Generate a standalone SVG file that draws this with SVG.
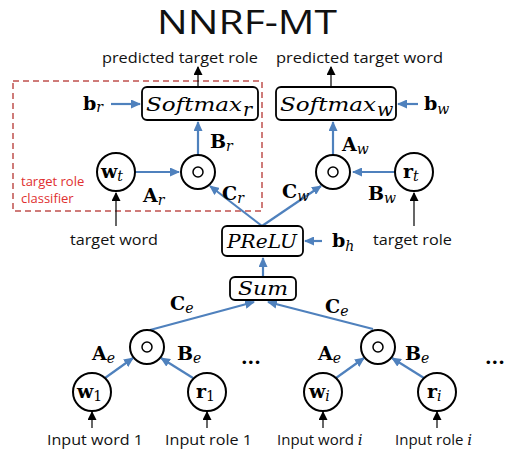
<svg xmlns="http://www.w3.org/2000/svg" width="507" height="452" viewBox="0 0 507 452">
<style>
.bl{stroke:#4f81bd;stroke-width:2.2;fill:none}
.bk{stroke:#000;stroke-width:1.2;fill:none}
.nd{fill:#fff;stroke:#000;stroke-width:2}
.box{fill:#fff;stroke:#000;stroke-width:1.8}
.sans{font-family:"Open Sans","Liberation Sans",sans-serif;fill:#111}
.lab{font-family:"DejaVu Serif","Liberation Serif",serif;font-weight:bold;font-size:19px;fill:#000}
.sub{font-family:"DejaVu Serif","Liberation Serif",serif;font-style:italic;font-weight:normal}
.up{font-style:normal}
.it{font-family:"DejaVu Serif","Liberation Serif",serif;font-style:italic;font-size:19px;fill:#000}
</style>
<defs>
<marker id="ab" markerUnits="userSpaceOnUse" markerWidth="10" markerHeight="9" refX="9" refY="4.5" orient="auto"><path d="M0,0 L10,4.5 L0,9 z" fill="#4f81bd"/></marker>
<marker id="ak" markerUnits="userSpaceOnUse" markerWidth="9" markerHeight="9" refX="8" refY="4.5" orient="auto"><path d="M0,0 L9,4.5 L0,9 z" fill="#000"/></marker>
</defs>
<rect width="507" height="452" fill="#fff"/>
<text x="247" y="34" text-anchor="middle" font-family="'Open Sans','Liberation Sans',sans-serif" font-size="33" fill="#111" textLength="180" lengthAdjust="spacingAndGlyphs">NNRF-MT</text>
<text class="sans" x="102" y="63" font-size="15" textLength="156" lengthAdjust="spacingAndGlyphs">predicted target role</text>
<text class="sans" x="276" y="63" font-size="15" textLength="167" lengthAdjust="spacingAndGlyphs">predicted target word</text>
<rect id="classifier" x="13" y="81" width="249" height="130" fill="none" stroke="#c0504d" stroke-width="1.5" stroke-dasharray="6,4"/>
<text x="21" y="186" font-family="'Open Sans','Liberation Sans',sans-serif" font-size="13" fill="#e03030">target role</text>
<text x="21" y="203" font-family="'Open Sans','Liberation Sans',sans-serif" font-size="13" fill="#e03030">classifier</text>
<g id="connectors">
<line class="bk" x1="198" y1="87" x2="198" y2="67" marker-end="url(#ak)"/>
<line class="bk" x1="331" y1="87" x2="331" y2="67" marker-end="url(#ak)"/>
<line class="bl" x1="111" y1="104" x2="140" y2="104" marker-end="url(#ab)"/>
<line class="bl" x1="418" y1="104" x2="398" y2="104" marker-end="url(#ab)"/>
<line class="bl" x1="135" y1="172" x2="179" y2="172" marker-end="url(#ab)"/>
<line class="bl" x1="198" y1="155" x2="198" y2="122" marker-end="url(#ab)"/>
<line class="bl" x1="262" y1="226" x2="210" y2="186" marker-end="url(#ab)"/>
<line class="bk" x1="116" y1="226" x2="116" y2="193" marker-end="url(#ak)"/>
<line class="bl" x1="333" y1="155" x2="333" y2="122" marker-end="url(#ab)"/>
<line class="bl" x1="395" y1="172" x2="353" y2="172" marker-end="url(#ab)"/>
<line class="bl" x1="262" y1="226" x2="321" y2="186" marker-end="url(#ab)"/>
<line class="bk" x1="414" y1="226" x2="414" y2="193" marker-end="url(#ak)"/>
<line class="bl" x1="322" y1="241" x2="305" y2="241" marker-end="url(#ab)"/>
<line class="bl" x1="263" y1="277" x2="263" y2="258" marker-end="url(#ab)"/>
<line class="bl" x1="150" y1="330" x2="254" y2="302" marker-end="url(#ab)"/>
<line class="bl" x1="373" y1="329" x2="268" y2="302" marker-end="url(#ab)"/>
<line class="bl" x1="105" y1="378" x2="133" y2="358" marker-end="url(#ab)"/>
<line class="bl" x1="193" y1="378" x2="161" y2="358" marker-end="url(#ab)"/>
<line class="bl" x1="336" y1="378" x2="364" y2="358" marker-end="url(#ab)"/>
<line class="bl" x1="424" y1="378" x2="392" y2="358" marker-end="url(#ab)"/>
<line class="bk" x1="92" y1="428" x2="92" y2="412" marker-end="url(#ak)"/>
<line class="bk" x1="207" y1="428" x2="207" y2="412" marker-end="url(#ak)"/>
<line class="bk" x1="323" y1="428" x2="323" y2="412" marker-end="url(#ak)"/>
<line class="bk" x1="437" y1="428" x2="437" y2="412" marker-end="url(#ak)"/>
</g>
<g id="softmax_r"><rect class="box" x="142" y="87" width="116" height="33" rx="5"/><text class="it" x="146" y="111" textLength="96" lengthAdjust="spacingAndGlyphs">Softmax</text><text class="it" x="243" y="116" font-size="13">r</text></g>
<g id="softmax_w"><rect class="box" x="276" y="87" width="120" height="33" rx="5"/><text class="it" x="280" y="111" textLength="96" lengthAdjust="spacingAndGlyphs">Softmax</text><text class="it" x="377" y="116" font-size="13">w</text></g>
<g id="b_r"><text class="lab" x="83" y="110">b<tspan class="sub" font-size="14" dy="2">r</tspan></text></g>
<g id="b_w"><text class="lab" x="424" y="110">b<tspan class="sub" font-size="14" dy="4">w</tspan></text></g>
<g id="w_t"><circle class="nd" cx="116" cy="172" r="19"/><text class="lab" x="101" y="178">w<tspan class="sub" font-size="14" dy="3">t</tspan></text></g>
<g id="odot_r"><circle class="nd" cx="198" cy="172" r="17"/><circle cx="198" cy="172" r="5" fill="none" stroke="#000" stroke-width="1.5"/></g>
<g id="odot_w"><circle class="nd" cx="333" cy="172" r="17"/><circle cx="333" cy="172" r="5" fill="none" stroke="#000" stroke-width="1.5"/></g>
<g id="r_t"><circle class="nd" cx="414" cy="172" r="19"/><text class="lab" x="403" y="178">r<tspan class="sub" font-size="14" dy="3">t</tspan></text></g>
<g id="prelu"><rect class="box" x="222" y="226" width="81" height="30" rx="5"/><text class="it" x="262" y="248" text-anchor="middle" textLength="70" lengthAdjust="spacingAndGlyphs">PReLU</text></g>
<g id="b_h"><text class="lab" x="332" y="247">b<tspan class="sub" font-size="14" dy="4">h</tspan></text></g>
<g id="sum"><rect class="box" x="230" y="277" width="66" height="23" rx="5"/><text class="it" x="263" y="295" text-anchor="middle" textLength="50" lengthAdjust="spacingAndGlyphs">Sum</text></g>
<g id="odot_1"><circle class="nd" cx="147" cy="347" r="17"/><circle cx="147" cy="347" r="5" fill="none" stroke="#000" stroke-width="1.5"/></g>
<g id="odot_i"><circle class="nd" cx="378" cy="347" r="17"/><circle cx="378" cy="347" r="5" fill="none" stroke="#000" stroke-width="1.5"/></g>
<g id="w_1"><circle class="nd" cx="92" cy="392" r="19"/><text class="lab" x="77" y="398">w<tspan class="sub up" font-size="14" dy="3">1</tspan></text></g>
<g id="r_1"><circle class="nd" cx="207" cy="392" r="19"/><text class="lab" x="196" y="398">r<tspan class="sub up" font-size="14" dy="3">1</tspan></text></g>
<g id="w_i"><circle class="nd" cx="323" cy="392" r="19"/><text class="lab" x="309" y="398">w<tspan class="sub" font-size="14" dy="3">i</tspan></text></g>
<g id="r_i"><circle class="nd" cx="437" cy="392" r="19"/><text class="lab" x="427" y="398">r<tspan class="sub" font-size="14" dy="3">i</tspan></text></g>
<g id="labels">
<text class="lab" x="143" y="202">A<tspan class="sub" font-size="14" dy="3">r</tspan></text>
<text class="lab" x="222" y="200">C<tspan class="sub" font-size="14" dy="3">r</tspan></text>
<text class="lab" x="210" y="148">B<tspan class="sub" font-size="14" dy="3">r</tspan></text>
<text class="lab" x="342" y="151">A<tspan class="sub" font-size="14" dy="3">w</tspan></text>
<text class="lab" x="368" y="200">B<tspan class="sub" font-size="14" dy="3">w</tspan></text>
<text class="lab" x="282" y="198">C<tspan class="sub" font-size="14" dy="3">w</tspan></text>
<text class="lab" x="170" y="310">C<tspan class="sub" font-size="14" dy="3">e</tspan></text>
<text class="lab" x="325" y="313">C<tspan class="sub" font-size="14" dy="3">e</tspan></text>
<text class="lab" x="92" y="360">A<tspan class="sub" font-size="14" dy="3">e</tspan></text>
<text class="lab" x="177" y="360">B<tspan class="sub" font-size="14" dy="3">e</tspan></text>
<text class="lab" x="318" y="360">A<tspan class="sub" font-size="14" dy="3">e</tspan></text>
<text class="lab" x="405" y="360">B<tspan class="sub" font-size="14" dy="3">e</tspan></text>
<text class="lab" x="241" y="364" font-family="'Liberation Sans',sans-serif">...</text>
<text class="lab" x="485" y="364" font-family="'Liberation Sans',sans-serif">...</text>
<text class="sans" x="70" y="245" font-size="15" textLength="88" lengthAdjust="spacingAndGlyphs">target word</text>
<text class="sans" x="373" y="245" font-size="15" textLength="79" lengthAdjust="spacingAndGlyphs">target role</text>
<text class="sans" x="47" y="445" font-size="15" textLength="96" lengthAdjust="spacingAndGlyphs">Input word 1</text>
<text class="sans" x="165" y="445" font-size="15" textLength="87" lengthAdjust="spacingAndGlyphs">Input role 1</text>
<text class="sans" x="277" y="445" font-size="15">Input word <tspan font-family="'DejaVu Serif',serif" font-style="italic">i</tspan></text>
<text class="sans" x="395" y="445" font-size="15">Input role <tspan font-family="'DejaVu Serif',serif" font-style="italic">i</tspan></text>
</g>
</svg>
